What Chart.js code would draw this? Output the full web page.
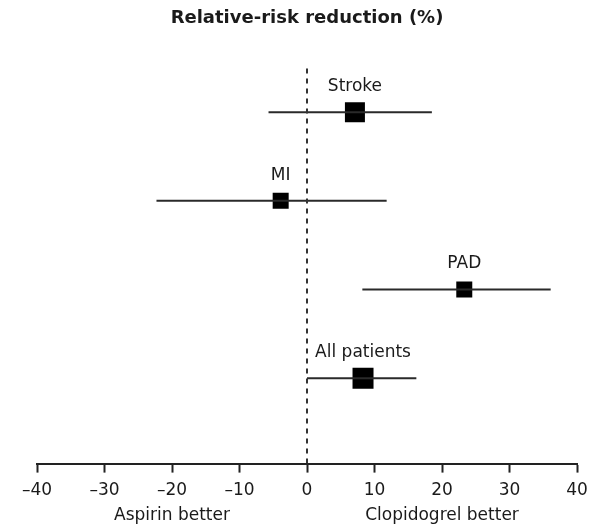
<!DOCTYPE html>
<html><head><meta charset="utf-8">
<script src="https://cdn.jsdelivr.net/npm/chart.js@4/dist/chart.umd.min.js"></script>
<style>html,body{margin:0;padding:0;background:#fff}#wrap{width:598px;height:526px;position:relative}</style>
</head><body><div id="wrap"><canvas id="c"></canvas></div>
<script>
// ---- data ----
const categories = ['Stroke', 'MI', 'PAD', 'All patients'];
const rrr = [7.1, -3.9, 23.3, 8.3];
const ciLow = [-5.7, -22.3, 8.2, 0.0];
const ciHigh = [18.5, 11.8, 36.1, 16.2];
const rowPos = [4, 3, 2, 1];
const xTicks = [-40, -30, -20, -10, 0, 10, 20, 30, 40];
const tickLabels = ['–40', '–30', '–20', '–10', '0', '10', '20', '30', '40'];
const sideLabels = ['Aspirin better', 'Clopidogrel better'];
const sideLabelAt = [-20, 20];
const titleText = 'Relative-risk reduction (%)';

// ---- style ----
const markerSides = [20, 16, 16, 21];
const FONT = "'DejaVu Sans', sans-serif";
const INK = '#1a1a1a';
const Y_MIN = 0.036, Y_MAX = 4.514;

const ciDatasets = categories.map((c, i) => ({
  type: 'line',
  label: c + ' CI',
  data: [{x: ciLow[i], y: rowPos[i]}, {x: ciHigh[i], y: rowPos[i]}],
  borderColor: '#2a2a2a', borderWidth: 2, pointRadius: 0, fill: false
}));

const zeroLine = {
  type: 'line', label: 'zero',
  data: [{x: 0, y: Y_MIN}, {x: 0, y: Y_MAX}],
  borderColor: '#333', borderWidth: 2, borderDash: [5, 5], pointRadius: 0, fill: false
};

const squares = {
  type: 'scatter', label: 'RRR',
  data: categories.map((c, i) => ({x: rrr[i], y: rowPos[i]})),
  pointStyle: 'rect',
  pointRadius: markerSides.map(s => s / Math.SQRT2),
  pointBackgroundColor: '#000', pointBorderWidth: 0, pointBorderColor: '#000'
};

const labelPlugin = {
  id: 'labels',
  afterDatasetsDraw(chart) {
    const ctx = chart.ctx;
    const meta = chart.getDatasetMeta(chart.data.datasets.indexOf(squares));
    ctx.save();
    ctx.fillStyle = INK;
    ctx.font = '17px ' + FONT;
    ctx.textAlign = 'center';
    ctx.textBaseline = 'alphabetic';
    meta.data.forEach((pt, i) => {
      ctx.fillText(categories[i], pt.x, pt.y - 21);
    });
    const xs = chart.scales.x;
    sideLabels.forEach((t, i) => {
      ctx.fillText(t, xs.getPixelForValue(sideLabelAt[i]), 520);
    });
    ctx.restore();
  }
};

new Chart(document.getElementById('c'), {
  data: { datasets: [zeroLine, ...ciDatasets, squares] },
  options: {
    responsive: true, maintainAspectRatio: false, animation: false,
    layout: { padding: { left: 37, right: 21, top: 0, bottom: 17 } },
    plugins: {
      legend: { display: false }, tooltip: { enabled: false },
      title: {
        display: true, text: titleText, color: INK,
        font: { family: FONT, size: 18, weight: 'bold', lineHeight: 1.2 },
        padding: { top: 8, bottom: 37 }
      }
    },
    scales: {
      x: {
        type: 'linear', min: -40, max: 40,
        afterBuildTicks: s => { s.ticks = xTicks.map(v => ({value: v})); },
        ticks: {
          color: INK, padding: 8, maxRotation: 0,
          font: { family: FONT, size: 17 },
          callback: v => tickLabels[xTicks.indexOf(v)]
        },
        grid: { drawOnChartArea: false, drawTicks: true, tickLength: 9, tickColor: '#222', tickWidth: 2 },
        border: { display: true, color: '#222', width: 2 }
      },
      y: { type: 'linear', min: Y_MIN, max: Y_MAX, display: false }
    }
  },
  plugins: [labelPlugin]
});
</script></body></html>
